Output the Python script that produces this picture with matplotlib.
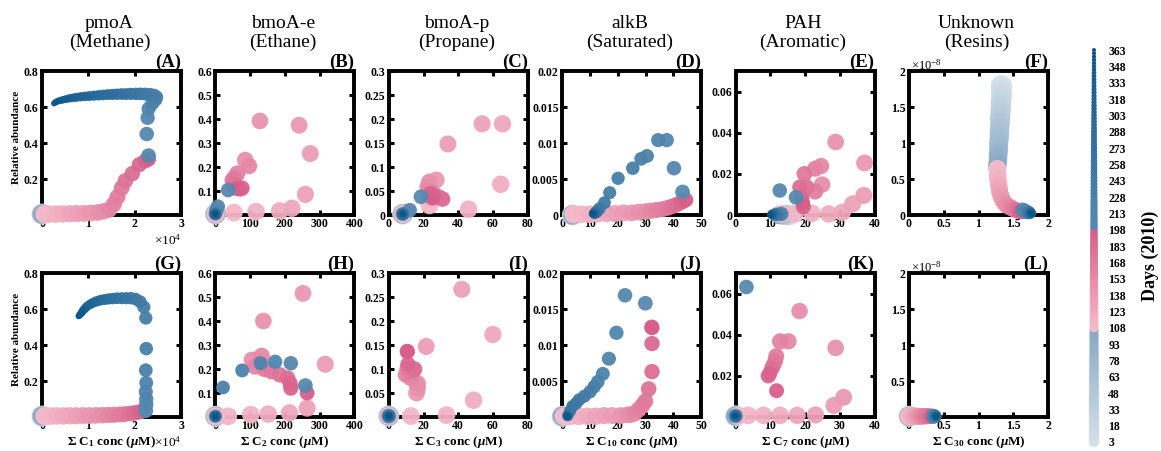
import matplotlib
matplotlib.use("Agg")
import matplotlib.pyplot as plt
from matplotlib.colors import to_rgb

plt.rcParams["font.family"] = "Liberation Serif"
plt.rcParams["mathtext.fontset"] = "custom"
plt.rcParams["mathtext.rm"] = "Liberation Serif"
plt.rcParams["mathtext.it"] = "Liberation Serif:italic:bold"
plt.rcParams["mathtext.bf"] = "Liberation Serif:bold"

W, H, DPI = 1161, 451, 100

# ---------------------------------------------------------------- data
# each entry: (day of 2010, summed concentration [uM], relative abundance)
pmoa_top = [
    (3, 0, 0.005), (28, 0, 0.005), (53, 0, 0.005), (78, 0, 0.005), (103, 0, 0.005),
    (108, 500, 0.005), (113, 1500, 0.005), (118, 3000, 0.005), (123, 4500, 0.006),
    (128, 6000, 0.007), (133, 7500, 0.008), (138, 9000, 0.009), (143, 10500, 0.011),
    (148, 12000, 0.014), (153, 13200, 0.02), (158, 14500, 0.03), (163, 15500, 0.06),
    (168, 16300, 0.10), (173, 17200, 0.15), (178, 18000, 0.19), (183, 19500, 0.23),
    (188, 21000, 0.28), (193, 22200, 0.30), (198, 23000, 0.31),
    (203, 23000, 0.33), (208, 22600, 0.45), (213, 22800, 0.54), (218, 23000, 0.59),
    (223, 23800, 0.62), (228, 24500, 0.64), (233, 24700, 0.655), (238, 24200, 0.665),
    (243, 23300, 0.67), (248, 22200, 0.672), (253, 21200, 0.673), (258, 20200, 0.673),
    (263, 19200, 0.673), (268, 18200, 0.672), (273, 17200, 0.672), (278, 16200, 0.671),
    (283, 15200, 0.670), (288, 14200, 0.669), (293, 13200, 0.667), (298, 12200, 0.665),
    (303, 11200, 0.663), (308, 10200, 0.661), (313, 9300, 0.659), (318, 8400, 0.657),
    (323, 7500, 0.654), (328, 6700, 0.651), (333, 5900, 0.648), (338, 5200, 0.644),
    (343, 4500, 0.640), (348, 3900, 0.636), (353, 3300, 0.631), (358, 2900, 0.626),
    (363, 2600, 0.620),
]
pmoa_bot = [
    (3, 0, 0.005), (28, 0, 0.005), (53, 0, 0.005), (78, 0, 0.005), (103, 0, 0.005),
    (108, 500, 0.005), (113, 1800, 0.005), (118, 3200, 0.006), (123, 4600, 0.006),
    (128, 6000, 0.007), (133, 7400, 0.007), (138, 8800, 0.008), (143, 10200, 0.008),
    (148, 11600, 0.009), (153, 13000, 0.010), (158, 14300, 0.011), (163, 15500, 0.012),
    (168, 16700, 0.014), (173, 17800, 0.016), (178, 18800, 0.019), (183, 19700, 0.022),
    (188, 20600, 0.026), (193, 21400, 0.030), (198, 22000, 0.035),
    (203, 22400, 0.035), (208, 22500, 0.07), (213, 22500, 0.10), (218, 22400, 0.14),
    (223, 22500, 0.19), (228, 22400, 0.26), (233, 22500, 0.38), (238, 22400, 0.55),
    (243, 22000, 0.61), (248, 21200, 0.64), (253, 20200, 0.655), (258, 19200, 0.66),
    (263, 18200, 0.66), (268, 17200, 0.66), (273, 16200, 0.66), (278, 15300, 0.658),
    (283, 14400, 0.656), (288, 13600, 0.653), (293, 12800, 0.650), (298, 12100, 0.645),
    (303, 11500, 0.640), (308, 10900, 0.633), (313, 10400, 0.626), (318, 9900, 0.618),
    (323, 9500, 0.610), (328, 9200, 0.600), (333, 8900, 0.593), (338, 8700, 0.585),
    (343, 8500, 0.578), (348, 8300, 0.572), (353, 8150, 0.567), (358, 8000, 0.563),
    (363, 7900, 0.560),
]
bmoae_top = [
    (3, 0, 0.004), (28, 0, 0.004), (53, 0, 0.004), (78, 0, 0.004), (103, 0, 0.004),
    (108, 0, 0.004), (113, 53, 0.010), (118, 117, 0.014), (123, 185, 0.017),
    (128, 220, 0.028), (133, 259, 0.086), (138, 273, 0.256), (143, 241, 0.374),
    (148, 128, 0.392), (153, 86, 0.229), (158, 97, 0.204), (163, 63, 0.173),
    (168, 55, 0.155), (173, 49, 0.145), (178, 53, 0.125), (183, 70, 0.112),
    (188, 77, 0.112), (193, 72, 0.108), (198, 62, 0.110),
    (203, 37, 0.104), (208, 7, 0.035), (213, 3, 0.02), (233, 0, 0.005),
    (263, 0, 0.004), (293, 0, 0.004), (333, 0, 0.004), (363, 0, 0.004),
]
bmoae_bot = [
    (3, 0, 0.003), (28, 0, 0.003), (53, 0, 0.003), (78, 0, 0.003), (103, 0, 0.003),
    (108, 0, 0.003), (113, 37, 0.003), (118, 102, 0.010), (123, 152, 0.012),
    (128, 213, 0.017), (133, 264, 0.037), (138, 316, 0.220), (143, 252, 0.515),
    (148, 138, 0.400), (153, 105, 0.238), (158, 133, 0.255), (163, 114, 0.210),
    (168, 140, 0.200), (173, 161, 0.190), (178, 185, 0.176), (183, 208, 0.162),
    (188, 215, 0.140), (193, 217, 0.120), (198, 264, 0.100),
    (203, 259, 0.131), (208, 217, 0.224), (213, 172, 0.230), (218, 130, 0.224),
    (223, 77, 0.194), (228, 22, 0.123), (243, 0, 0.003), (273, 0, 0.003),
    (303, 0, 0.003), (333, 0, 0.003), (363, 0, 0.003),
]
bmoap_top = [
    (3, 8, 0.002), (28, 8, 0.002), (53, 8, 0.002), (78, 8, 0.002), (103, 8, 0.002),
    (108, 8, 0.002), (113, 23.4, 0.020), (118, 45.9, 0.012), (123, 64.4, 0.064),
    (128, 65.4, 0.190), (133, 53.7, 0.190), (138, 34.0, 0.148), (143, 27.3, 0.073),
    (148, 23.4, 0.069), (153, 22.4, 0.059), (158, 23.0, 0.050), (163, 25.4, 0.045),
    (168, 27.0, 0.040), (173, 28.3, 0.038), (178, 30.0, 0.035), (183, 31.0, 0.033),
    (188, 26.0, 0.040), (193, 24.0, 0.045), (198, 25.0, 0.035),
    (203, 18.5, 0.038), (208, 12.0, 0.010), (223, 8, 0.002), (253, 8, 0.002),
    (283, 8, 0.002), (323, 8, 0.002), (363, 8, 0.002),
]
bmoap_bot = [
    (3, 0, 0.002), (28, 0, 0.002), (53, 0, 0.002), (78, 0, 0.002), (103, 0, 0.002),
    (108, 0, 0.002), (113, 12.7, 0.002), (118, 33.2, 0.004), (123, 48.8, 0.035),
    (128, 59.9, 0.172), (133, 42.0, 0.266), (138, 21.5, 0.147), (143, 16.0, 0.050),
    (148, 16.6, 0.060), (153, 16.6, 0.070), (158, 12.7, 0.081), (163, 9.8, 0.088),
    (168, 10.7, 0.100), (173, 12.0, 0.095), (178, 14.6, 0.098), (183, 14.8, 0.100),
    (188, 11.0, 0.110), (193, 10.7, 0.136), (198, 10.6, 0.137),
    (203, 0, 0.002), (233, 0, 0.002), (263, 0, 0.002), (303, 0, 0.002),
    (333, 0, 0.002), (363, 0, 0.002),
]
alkb_top = [
    (3, 3.7, 0.0), (28, 3.7, 0.0), (53, 3.7, 0.0), (78, 3.7, 0.0), (103, 3.7, 0.0),
    (108, 4, 0.0001), (113, 7, 0.0001), (118, 10, 0.0001), (123, 13, 0.0002),
    (128, 16, 0.0002), (133, 19, 0.0002), (138, 22, 0.0003), (143, 25, 0.0003),
    (148, 27.5, 0.0004), (153, 30, 0.0005), (158, 32, 0.0006), (163, 34, 0.0007),
    (168, 36, 0.0008), (173, 38, 0.0010), (178, 39.5, 0.0012), (183, 41, 0.0014),
    (188, 42.5, 0.0017), (193, 43.5, 0.0019), (198, 44.5, 0.0021),
    (203, 43.3, 0.0032), (208, 40.2, 0.0065), (213, 37.6, 0.0104), (218, 34.5, 0.0104),
    (223, 30.5, 0.0082), (228, 28.4, 0.0078), (233, 25.4, 0.0065), (238, 20.1, 0.0051),
    (243, 17.1, 0.0031), (248, 15.2, 0.0017), (253, 13.4, 0.0009), (258, 12.5, 0.0005),
    (273, 12.0, 0.0003), (293, 11.6, 0.0002), (313, 11.3, 0.0002), (338, 11.1, 0.0002),
    (363, 11.0, 0.0002),
]
alkb_bot = [
    (3, 0, 0.0001), (28, 0, 0.0001), (53, 0, 0.0001), (78, 0, 0.0001), (103, 0, 0.0001),
    (108, 0.5, 0.0001), (113, 3, 0.0001), (118, 6, 0.0001), (123, 9, 0.0001),
    (128, 12, 0.0001), (133, 15, 0.0002), (138, 18, 0.0002), (143, 21, 0.0002),
    (148, 23.5, 0.0003), (153, 24.5, 0.0003), (158, 26, 0.0005), (163, 27.4, 0.0010),
    (168, 28.8, 0.0016), (173, 29.9, 0.0022), (178, 31.1, 0.0039), (183, 32.3, 0.0063),
    (188, 32.3, 0.0102), (193, 32.3, 0.0124), (198, 32.2, 0.0125),
    (203, 29.9, 0.0158), (208, 22.6, 0.0169), (213, 19.5, 0.0117), (218, 16.8, 0.0081),
    (223, 14.6, 0.0060), (228, 12.8, 0.0049), (233, 11.5, 0.0042), (238, 10.0, 0.0035),
    (243, 8.0, 0.0029), (248, 6.1, 0.0024), (253, 5.0, 0.0019), (258, 3.7, 0.0015),
    (263, 2.8, 0.0008), (283, 2.0, 0.0002), (313, 1.9, 0.0001), (338, 1.8, 0.0001),
    (363, 1.8, 0.0001),
]
pah_top = [
    (3, 15.5, 0.0), (28, 14.8, 0.0), (53, 14.0, 0.0), (78, 13.0, 0.0), (103, 12.5, 0.0),
    (108, 13.2, 0.0005), (113, 17.0, 0.0005), (118, 22.0, 0.0008), (123, 26.8, 0.0005),
    (128, 30.7, 0.0013), (133, 33.7, 0.0054), (138, 36.9, 0.0095), (143, 37.1, 0.0253),
    (148, 28.8, 0.0355), (153, 24.9, 0.0148), (158, 24.6, 0.0238), (163, 22.9, 0.0225),
    (168, 22.9, 0.0114), (173, 19.8, 0.0200), (178, 20.5, 0.0135), (183, 18.5, 0.0135),
    (188, 19.0, 0.0086), (193, 19.5, 0.0040), (198, 19.3, 0.0060),
    (203, 17.4, 0.0086), (208, 12.7, 0.0119), (213, 13.2, 0.0005), (228, 12.5, 0.0004),
    (248, 11.8, 0.0003), (268, 11.2, 0.0003), (293, 10.8, 0.0002), (318, 10.4, 0.0002),
    (343, 10.2, 0.0002), (363, 10.0, 0.0002),
]
pah_bot = [
    (3, 0, 0.0005), (28, 0, 0.0005), (53, 0, 0.0005), (78, 0, 0.0005), (103, 0, 0.0005),
    (108, 0.5, 0.0005), (113, 3.6, 0.0008), (118, 8.0, 0.0008), (123, 12.8, 0.0008),
    (128, 17.7, 0.0008), (133, 23.0, 0.0010), (138, 28.3, 0.0056), (143, 31.1, 0.0096),
    (148, 28.8, 0.0336), (153, 18.4, 0.0515), (158, 15.2, 0.0368), (163, 12.8, 0.0368),
    (168, 11.7, 0.0296), (173, 11.4, 0.0272), (178, 10.8, 0.0250), (183, 10.4, 0.0235),
    (188, 9.4, 0.0200), (193, 9.8, 0.0210), (198, 11.8, 0.0128),
    (203, 3.1, 0.0632), (213, 0, 0.0005), (243, 0, 0.0005), (283, 0, 0.0005),
    (323, 0, 0.0005), (363, 0, 0.0005),
]
resin_top = [
    (3, 1.33, 1.80e-8), (8, 1.33, 1.76e-8), (13, 1.33, 1.70e-8), (18, 1.33, 1.64e-8),
    (23, 1.325, 1.58e-8), (28, 1.32, 1.52e-8), (33, 1.32, 1.46e-8), (38, 1.315, 1.40e-8),
    (43, 1.31, 1.34e-8), (48, 1.31, 1.28e-8), (53, 1.305, 1.22e-8), (58, 1.30, 1.16e-8),
    (63, 1.30, 1.10e-8), (68, 1.295, 1.04e-8), (73, 1.29, 0.98e-8), (78, 1.29, 0.92e-8),
    (83, 1.285, 0.86e-8), (88, 1.28, 0.81e-8), (93, 1.28, 0.76e-8), (98, 1.275, 0.72e-8),
    (103, 1.27, 0.68e-8),
    (108, 1.27, 0.64e-8), (113, 1.275, 0.56e-8), (118, 1.28, 0.49e-8), (123, 1.29, 0.42e-8),
    (128, 1.30, 0.36e-8), (133, 1.31, 0.30e-8), (138, 1.33, 0.25e-8), (143, 1.35, 0.20e-8),
    (148, 1.38, 0.16e-8), (153, 1.41, 0.13e-8), (158, 1.45, 0.11e-8), (163, 1.48, 0.095e-8),
    (168, 1.51, 0.08e-8), (173, 1.54, 0.07e-8), (178, 1.56, 0.06e-8), (183, 1.58, 0.055e-8),
    (188, 1.60, 0.05e-8), (193, 1.61, 0.047e-8), (198, 1.62, 0.045e-8),
    (203, 1.64, 0.07e-8), (208, 1.66, 0.06e-8), (213, 1.68, 0.05e-8), (223, 1.70, 0.04e-8),
    (238, 1.72, 0.034e-8), (253, 1.73, 0.03e-8), (273, 1.74, 0.028e-8),
    (293, 1.75, 0.026e-8), (318, 1.755, 0.025e-8), (343, 1.76, 0.024e-8),
    (363, 1.76, 0.023e-8),
]
resin_bot = [
    (3, 0, 0.01e-8), (28, 0, 0.01e-8), (53, 0, 0.01e-8), (78, 0, 0.01e-8), (103, 0, 0.01e-8),
    (108, 0.0, 0.01e-8), (113, 0.02, 0.01e-8), (118, 0.04, 0.01e-8), (123, 0.06, 0.01e-8),
    (128, 0.08, 0.01e-8), (133, 0.10, 0.01e-8), (138, 0.12, 0.01e-8), (143, 0.14, 0.01e-8),
    (148, 0.16, 0.01e-8), (153, 0.18, 0.01e-8), (158, 0.20, 0.01e-8), (163, 0.22, 0.01e-8),
    (168, 0.24, 0.01e-8), (173, 0.26, 0.01e-8), (178, 0.28, 0.01e-8), (183, 0.30, 0.01e-8),
    (188, 0.32, 0.01e-8), (193, 0.33, 0.01e-8), (198, 0.34, 0.01e-8),
    (203, 0.35, 0.01e-8), (213, 0.36, 0.01e-8), (233, 0.37, 0.01e-8), (263, 0.38, 0.01e-8),
    (303, 0.385, 0.01e-8), (343, 0.39, 0.01e-8), (363, 0.39, 0.01e-8),
]

genes = ["pmoA", "bmoA-e", "bmoA-p", "alkB", "PAH", "Unknown"]
substrates = ["(Methane)", "(Ethane)", "(Propane)", "(Saturated)", "(Aromatic)", "(Resins)"]
carbon_labels = ["1", "2", "3", "10", "7", "30"]
panel_tags = ["(A)", "(B)", "(C)", "(D)", "(E)", "(F)", "(G)", "(H)", "(I)", "(J)", "(K)", "(L)"]
top_data = [pmoa_top, bmoae_top, bmoap_top, alkb_top, pah_top, resin_top]
bot_data = [pmoa_bot, bmoae_bot, bmoap_bot, alkb_bot, pah_bot, resin_bot]

x_ticks = [[0, 1e4, 2e4, 3e4], [0, 100, 200, 300, 400], [0, 20, 40, 60, 80],
           [0, 10, 20, 30, 40, 50], [0, 10, 20, 30, 40], [0, 0.5, 1, 1.5, 2]]
y_ticks = [[0, 0.2, 0.4, 0.6, 0.8], [0, 0.1, 0.2, 0.3, 0.4, 0.5, 0.6],
           [0, 0.05, 0.1, 0.15, 0.2, 0.25, 0.3], [0, 0.005, 0.01, 0.015, 0.02],
           [0, 0.02, 0.04, 0.06], [0, 0.5e-8, 1e-8, 1.5e-8, 2e-8]]
x_lims = [(0, 3e4), (0, 400), (0, 80), (0, 50), (0, 40), (0, 2)]
y_lims = [(0, 0.8), (0, 0.6), (0, 0.3), (0, 0.02), (0, 0.07), (0, 2e-8)]
x_factor = [1e4, 1, 1, 1, 1, 1]
y_factor = [1, 1, 1, 1, 1, 1e-8]

bar_days = list(range(3, 364, 3))
bar_labels = list(range(3, 364, 15))

# ---------------------------------------------------------------- styling helpers
phase_bounds = [(3, 103), (108, 198), (203, 363)]
phase_cols = [("#d6e1eb", "#8aaac5"), ("#f6bccb", "#d75f89"), ("#5789b0", "#0a5689")]


def day_color(day):
    for (d0, d1), (c0, c1) in zip(phase_bounds, phase_cols):
        if day <= d1 + 2:
            t = min(max((day - d0) / (d1 - d0), 0.0), 1.0)
            a, b = to_rgb(c0), to_rgb(c1)
            return tuple((1 - t) * u + t * v for u, v in zip(a, b))
    return to_rgb(phase_cols[-1][1])


def marker_area(day, d_big=21.0, d_small=6.0):
    # marker area shrinks linearly through the year
    a_big, a_small = d_big ** 2, d_small ** 2
    area_px = a_big - (a_big - a_small) * (day - 3) / 360.0
    return area_px * (72.0 / DPI) ** 2


def fx(px):
    return px / W


def fy(py):
    return 1 - py / H


def add_px_axes(left, top, width, height):
    return fig.add_axes([left / W, 1 - (top + height) / H, width / W, height / H])


fig = plt.figure(figsize=(W / DPI, H / DPI), dpi=DPI)

lefts = [42 + 173.4 * i for i in range(6)]
tops = [71, 273]
AX_W, AX_H = 139, 144

for row, datasets in enumerate([top_data, bot_data]):
    for col, data in enumerate(datasets):
        left, top = lefts[col], tops[row]
        ax = add_px_axes(left, top, AX_W, AX_H)
        days = [d for d, _, _ in data]
        xs = [x for _, x, _ in data]
        ys = [y for _, _, y in data]
        ax.scatter(xs, ys, s=[marker_area(d) for d in days],
                   c=[day_color(d) for d in days], linewidths=0,
                   alpha=0.95, zorder=3, clip_on=False)
        ax.set_xlim(*x_lims[col])
        ax.set_ylim(*y_lims[col])
        ax.set_xticks(x_ticks[col], labels=[f"{t / x_factor[col]:g}" for t in x_ticks[col]],
                      fontsize=8.5, fontweight="bold")
        ax.set_yticks(y_ticks[col], labels=[f"{t / y_factor[col]:g}" for t in y_ticks[col]],
                      fontsize=8.5, fontweight="bold")
        ax.tick_params(direction="in", length=3.5, width=2.2, top=True, right=True,
                       pad=2.5, colors="black")
        for sp in ax.spines.values():
            sp.set_linewidth(2.8)
            sp.set_zorder(2.5)
        ax.set_facecolor("none")

        cx = left + AX_W / 2
        fig.text(fx(left + AX_W), fy(top - 8.5), panel_tags[row * 6 + col],
                 ha="right", va="center", fontsize=13.5, fontweight="bold")
        if row == 0:
            fig.text(fx(cx - 2), fy(33), genes[col] + "\n" + substrates[col],
                     ha="center", va="center", fontsize=14, linespacing=1.1)
        else:
            fig.text(fx(cx), fy(442),
                     r"$\mathbf{\Sigma}$ C$_{\mathbf{" + carbon_labels[col] + r"}}$ conc ($\mathit{\mu}$M)",
                     ha="center", va="center", fontsize=9.5, fontweight="bold")
        if col == 0:
            fig.text(fx(17), fy(top + AX_H / 2 - 6), "Relative abundance", rotation=90,
                     ha="center", va="center", fontsize=8, fontweight="bold")
            fig.text(fx(left + AX_W), fy(top + AX_H + 25), r"$\times$10$^{4}$",
                     ha="right", va="center", fontsize=9.5)
        if col == 5:
            fig.text(fx(left + 2), fy(top - 6), r"$\times$10$^{-8}$",
                     ha="left", va="center", fontsize=9)

# day colour scale drawn as a column of dots
cb = add_px_axes(1084, 50, 20, 392)
cb.scatter([0] * len(bar_days), bar_days,
           s=[marker_area(d, 10.5, 4.0) for d in bar_days],
           c=[day_color(d) for d in bar_days], linewidths=0, zorder=3, clip_on=False)
cb.set_xlim(-1, 1)
cb.set_ylim(3, 363)
cb.set_xticks([])
cb.yaxis.tick_right()
cb.set_yticks(bar_labels, labels=[str(v) for v in bar_labels], fontsize=8.5, fontweight="bold")
cb.tick_params(axis="y", length=0, pad=3)
for sp in cb.spines.values():
    sp.set_visible(False)
cb.set_facecolor("none")
fig.text(fx(1150), fy(256), "Days (2010)", rotation=90, ha="center", va="center",
         fontsize=13, fontweight="bold")

fig.savefig("out.png", dpi=DPI)
